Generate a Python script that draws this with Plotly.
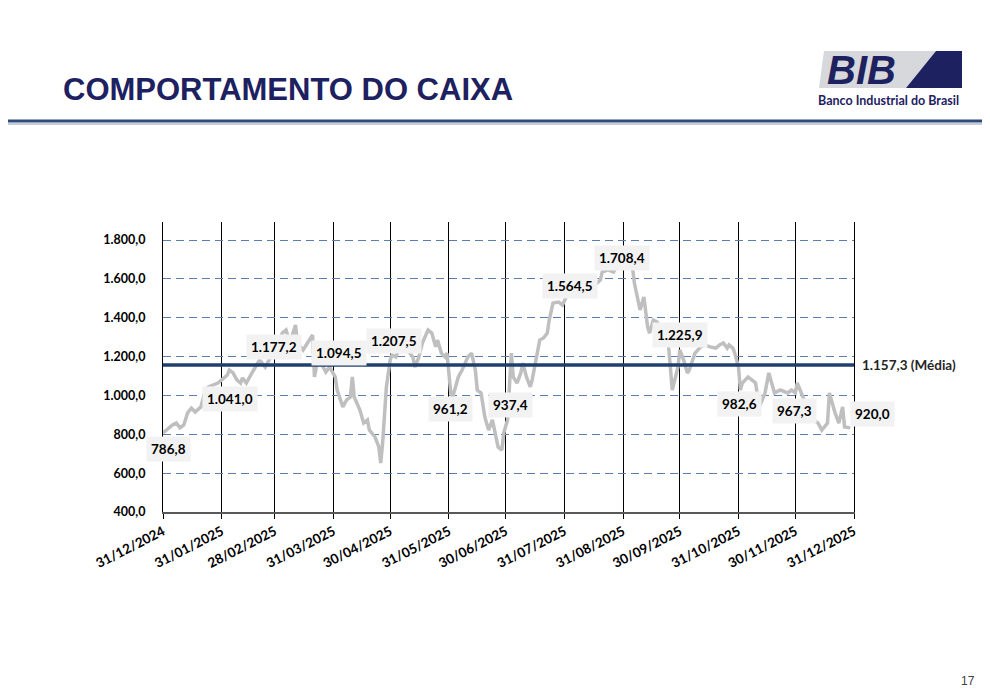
import pandas as pd
import plotly.graph_objects as go

# Saldo de caixa diário (dias contados a partir de 31/12/2024)
inicio = pd.Timestamp("2024-12-31")
dias = [0, 3, 5, 7, 9, 11, 13, 15, 17, 20,
        22, 24, 26, 29, 31, 34, 35, 37, 39, 41,
        42, 44, 47, 50, 51, 54, 57, 58, 60, 63,
        65, 67, 70, 71, 74, 77, 79, 80, 82, 84,
        86, 88, 91, 92, 95, 97, 99, 100, 101, 104,
        106, 108, 109, 112, 114, 115, 116, 118, 120, 121,
        123, 125, 129, 132, 133, 135, 137, 140, 142, 144,
        145, 147, 149, 150, 152, 153, 156, 158, 161, 163,
        165, 166, 168, 170, 172, 174, 175, 177, 179, 180,
        182, 183, 184, 185, 187, 189, 190, 192, 194, 195,
        198, 199, 201, 203, 204, 206, 209, 211, 213, 216,
        219, 223, 228, 231, 232, 235, 238, 239, 241, 244,
        247, 248, 249, 251, 252, 254, 255, 256, 257, 259,
        261, 264, 267, 269, 272, 273, 275, 277, 278, 281,
        284, 286, 289, 292, 294, 296, 298, 299, 301, 302,
        304, 305, 306, 309, 311, 313, 315, 318, 320, 322,
        323, 326, 330, 332, 334, 335, 338, 341, 343, 346,
        348, 351, 352, 355, 357, 359, 360, 363]
caixa = [807, 833, 848, 858, 833, 848, 910, 935, 915, 941,
         1013, 1044, 1054, 1064, 1080, 1105, 1131, 1116, 1080, 1064,
         1090, 1064, 1116, 1167, 1183, 1146, 1198, 1218, 1234, 1321,
         1337, 1270, 1363, 1270, 1234, 1285, 1311, 1095, 1198, 1157,
         1121, 1146, 1095, 1028, 941, 977, 992, 1095, 992, 925,
         858, 874, 822, 786, 735, 652, 755, 1044, 1183, 1208,
         1198, 1250, 1234, 1198, 1146, 1193, 1270, 1337, 1321, 1250,
         1285, 1218, 1198, 1218, 1013, 992, 1095, 1131, 1198, 1218,
         1131, 1028, 1013, 889, 822, 874, 822, 735, 719, 807,
         874, 1064, 1218, 1095, 1064, 1116, 1167, 1095, 1044, 1080,
         1218, 1285, 1296, 1321, 1388, 1476, 1481, 1466, 1507, 1543,
         1568, 1584, 1568, 1594, 1635, 1646, 1635, 1656, 1671, 1687,
         1697, 1656, 1579, 1491, 1440, 1507, 1424, 1352, 1321, 1388,
         1378, 1311, 1260, 1028, 1146, 1234, 1183, 1116, 1131, 1218,
         1250, 1260, 1250, 1244, 1260, 1270, 1244, 1260, 1244, 1218,
         1146, 1028, 1064, 1095, 1080, 1064, 941, 1013, 1116, 1044,
         1013, 1028, 1013, 1028, 1013, 1064, 992, 925, 874, 858,
         822, 858, 1013, 910, 858, 941, 838, 833]

# fechamentos mensais (rótulos)
datas_mes = ["2024-12-31", "2025-01-31", "2025-02-28", "2025-03-31", "2025-04-30",
             "2025-05-31", "2025-06-30", "2025-07-31", "2025-08-31", "2025-09-30",
             "2025-10-31", "2025-11-30", "2025-12-31"]
valores_mes = [786.8, 1041.0, 1177.2, 1094.5, 1207.5, 961.2, 937.4,
               1564.5, 1708.4, 1225.9, 982.6, 967.3, 920.0]
media = 1157.3
ticks_y = [400, 600, 800, 1000, 1200, 1400, 1600, 1800]

# deslocamento (px) das caixas de rótulo
desloc_x = [5, 8, -1, 6, 4, 2, 5, 6, -1, 0, 1, -1, 18]
desloc_y = [-12, -12, 14, 24, 14, -6, 3, 0, 0, 17, -5, -9, -3]

datas = inicio + pd.to_timedelta(dias, unit="D")
datas_mes = pd.to_datetime(datas_mes)

def fmt_br(v):
    return f"{v:,.1f}".replace(",", "X").replace(".", ",").replace("X", ".")

# geometria: a página html tem margem de 8px no body
OFF = 8
W, H = 990 - OFF, 698 - OFF
L, R, T, B = 155, 136, 214, 186
pw, ph = W - L - R, H - T - B

def px(x):
    return (x - OFF - L) / pw

def py(y):
    return (H - B - (y - OFF)) / ph

NAVY = "#1d2160"
FONTE = "Lato"

fig = go.Figure()

fig.add_trace(go.Scatter(
    x=datas, y=caixa, mode="lines",
    line=dict(color="#bfbfbf", width=3.5),
    showlegend=False, hoverinfo="skip"
))

fig.add_trace(go.Scatter(
    x=[datas_mes[0], datas_mes[-1]], y=[media, media], mode="lines",
    line=dict(color="#1f3f6e", width=3.5),
    showlegend=False, hoverinfo="skip"
))

# rótulos mensais
for d, v, dx, dy in zip(datas_mes, valores_mes, desloc_x, desloc_y):
    fig.add_annotation(
        x=d, y=v, text=fmt_br(v), showarrow=False,
        xshift=dx, yshift=dy,
        font=dict(family=FONTE, size=13.5, color="black", weight="bold"),
        bgcolor="#f2f2f2", borderpad=4
    )

fig.add_annotation(
    x=datas_mes[-1], y=media, text=fmt_br(media) + " (Média)",
    showarrow=False, xanchor="left", xshift=6,
    font=dict(family=FONTE, size=13.5, color="#262626", weight="bold")
)

# cabeçalho
fig.add_annotation(
    xref="paper", yref="paper", x=px(61), y=py(89),
    text="COMPORTAMENTO DO CAIXA", showarrow=False,
    xanchor="left", yanchor="middle",
    font=dict(family="Liberation Sans", size=31, color=NAVY, weight="bold")
)
fig.add_shape(type="line", xref="paper", yref="paper",
              x0=px(0), x1=px(990), y0=py(124), y1=py(124),
              line=dict(color="#c8ccd4", width=2))
fig.add_shape(type="line", xref="paper", yref="paper",
              x0=px(0), x1=px(990), y0=py(121), y1=py(121),
              line=dict(color="#2c4a7c", width=3))

# logotipo
fig.add_shape(type="path", xref="paper", yref="paper",
              path=f"M {px(824)},{py(51)} L {px(936)},{py(51)} L {px(906)},{py(88)} L {px(819)},{py(88)} Z",
              fillcolor="#d6d8dc", line=dict(width=0))
fig.add_shape(type="path", xref="paper", yref="paper",
              path=f"M {px(936)},{py(51)} L {px(962)},{py(51)} L {px(962)},{py(88)} L {px(906)},{py(88)} Z",
              fillcolor=NAVY, line=dict(width=0))
fig.add_annotation(
    xref="paper", yref="paper", x=px(862), y=py(70),
    text="<i>BIB</i>", showarrow=False, xanchor="center", yanchor="middle",
    font=dict(family="Liberation Sans", size=40, color=NAVY, weight="bold")
)
fig.add_annotation(
    xref="paper", yref="paper", x=px(888), y=py(101),
    text="Banco Industrial do Brasil", showarrow=False,
    xanchor="center", yanchor="middle",
    font=dict(family=FONTE, size=12.5, color=NAVY, weight="bold")
)

fig.add_annotation(
    xref="paper", yref="paper", x=px(968), y=py(681),
    text="17", showarrow=False, xanchor="center", yanchor="middle",
    font=dict(family="Liberation Sans", size=12, color="#404040")
)

fig.update_layout(
    width=W, height=H,
    margin=dict(l=L, r=R, t=T, b=B),
    paper_bgcolor="white", plot_bgcolor="white",
    separators=",.",
    xaxis=dict(
        type="date",
        range=[datas_mes[0], datas_mes[-1]],
        tickvals=datas_mes,
        ticktext=[d.strftime("%d/%m/%Y") for d in datas_mes],
        tickangle=-27,
        showgrid=True, gridcolor="black", gridwidth=1,
        showline=True, linecolor="#595959", linewidth=1.5,
        ticks="outside", ticklen=5, tickcolor="black",
        tickfont=dict(family=FONTE, size=13.5, color="black", weight="bold"),
        zeroline=False
    ),
    yaxis=dict(
        range=[400, 1893],
        tickvals=ticks_y,
        tickformat=",.1f",
        showgrid=True, gridcolor="#5b7db1", gridwidth=1.2, griddash="8px,5px",
        showline=True, mirror=True, linecolor="black", linewidth=1,
        ticks="", ticklabelstandoff=14,
        tickfont=dict(family=FONTE, size=12.5, color="black", weight="bold"),
        zeroline=False
    ),
)

fig.write_html("out.html")
